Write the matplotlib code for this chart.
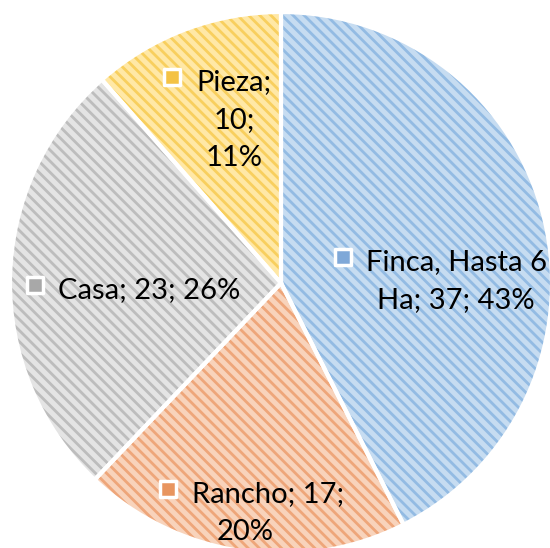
import matplotlib.pyplot as plt
import matplotlib as mpl

# datos
categorias = ["Finca, Hasta 6 Ha", "Rancho", "Casa", "Pieza"]
valores = [37, 17, 23, 10]
# como se parte cada etiqueta en lineas (igual que en la imagen)
cortes = [["Finca, Hasta 6", "Ha; {v}; {p}%"],
          ["Rancho; {v};", "{p}%"],
          ["Casa; {v}; {p}%"],
          ["Pieza;", "{v};", "{p}%"]]

fondo = ["#c6dcf1", "#f8d3bb", "#e4e4e4", "#ffe8a6"]
rayas = ["#93bbe3", "#eea67a", "#bdbdbd", "#f8cf5e"]
marca = ["#7fa8d8", "#e8955f", "#a8a8a8", "#f4c244"]

W, H = 550, 548
CX, CY, R = 281, 283, 271


def px(x, y):
    # pixel -> coordenadas del eje
    return (x - CX) / R, (CY - y) / R


mpl.rcParams["hatch.linewidth"] = 2.0
plt.rcParams["font.family"] = ["Lato", "DejaVu Sans"]

fig = plt.figure(figsize=(W / 100, H / 100), dpi=100)
ax = fig.add_axes([0, 0, 1, 1])

# relleno rayado
cunas, _ = ax.pie(valores, startangle=90, counterclock=False, radius=1,
                  colors=fondo, wedgeprops=dict(linewidth=0))
for c, col in zip(cunas, rayas):
    c.set_hatch("\\\\\\")
    c.set_edgecolor(col)
    c.set_linewidth(0)

# bordes blancos encima
ax.pie(valores, startangle=90, counterclock=False, radius=1,
       colors=["none"] * 4,
       wedgeprops=dict(linewidth=3, edgecolor="white", fill=False))

# pie() cambia los limites, se ponen despues
ax.set_xlim(-CX / R, (W - CX) / R)
ax.set_ylim(-(H - CY) / R, CY / R)
ax.set_aspect("equal")
ax.axis("off")

total = sum(valores)
pcts = [round(v / total * 100) for v in valores]

# posicion de cada etiqueta: (x marca, y linea1, x texto linea1, x centro resto)
pos = [(343, 262, 366, 456),
       (168, 494, 192, 245),
       (35, 290, 58, 0),
       (172, 82, 196, 234)]
salto = 38
fs = 21

for i, (mx, y0, tx, cx) in enumerate(pos):
    lineas = [l.format(v=valores[i], p=pcts[i]) for l in cortes[i]]
    ax.scatter(*px(mx, y0 - 5), marker="s", s=120, color=marca[i],
               edgecolors="white", linewidths=2.5, zorder=5)
    ax.text(*px(tx, y0), lineas[0], ha="left", va="center",
            fontsize=fs, color="black", zorder=6)
    for k, l in enumerate(lineas[1:], start=1):
        ax.text(*px(cx, y0 + k * salto), l, ha="center", va="center",
                fontsize=fs, color="black", zorder=6)

fig.savefig("out.png", dpi=100)
